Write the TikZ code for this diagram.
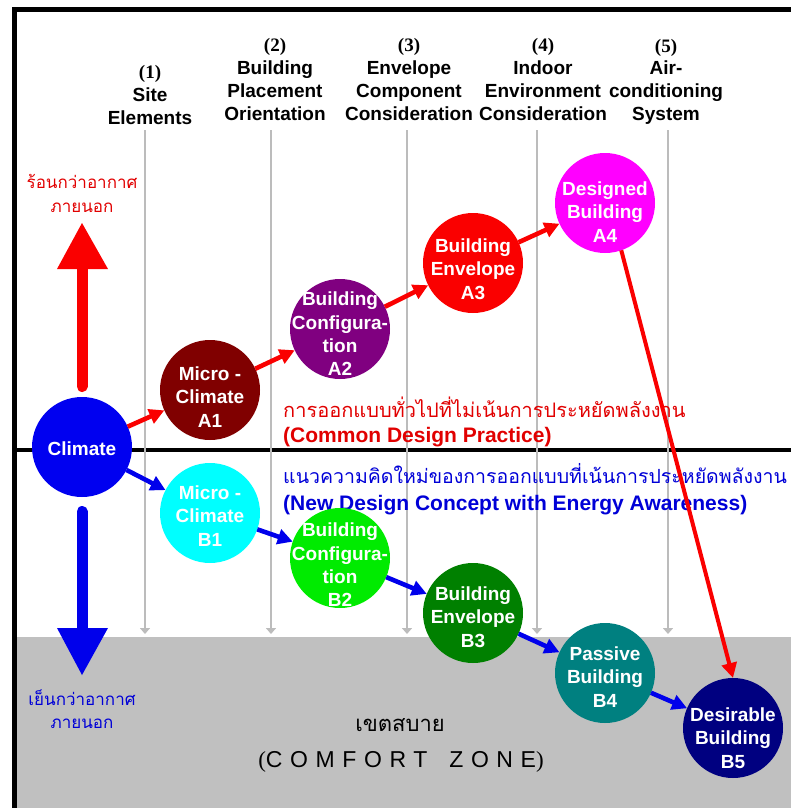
\documentclass[tikz,border=0pt]{standalone}
\usepackage{fontspec}
\setmainfont{Liberation Sans}
\newfontfamily\thaifont[Script=Thai]{Loma}
\newfontfamily\serifb{Liberation Serif}
\newfontfamily\spacedfont[LetterSpace=33]{Liberation Sans}
\usetikzlibrary{arrows.meta}
\definecolor{cClim}{RGB}{0,0,240}
\definecolor{cAone}{RGB}{128,0,0}
\definecolor{cAtwo}{RGB}{128,0,128}
\definecolor{cAthree}{RGB}{250,0,0}
\definecolor{cAfour}{RGB}{255,0,255}
\definecolor{cBone}{RGB}{0,255,255}
\definecolor{cBtwo}{RGB}{0,235,0}
\definecolor{cBthree}{RGB}{0,128,0}
\definecolor{cBfour}{RGB}{0,128,128}
\definecolor{cBfive}{RGB}{0,0,128}
\definecolor{zonegray}{RGB}{192,192,192}
\definecolor{glinec}{RGB}{188,188,188}
\definecolor{redtxt}{RGB}{225,0,0}
\definecolor{bluetxt}{RGB}{0,0,215}
\definecolor{arrred}{RGB}{250,0,0}
\definecolor{arrblue}{RGB}{0,0,235}
\tikzset{
  circ/.style={circle, minimum size=100pt, inner sep=0pt, outer sep=0pt, draw=none},
  ctext/.style={text=white, align=center, inner sep=0pt,
    font=\bfseries\fontsize{19}{23.4}\selectfont},
  hdr/.style={align=center, inner sep=0pt, font=\bfseries\fontsize{19}{22.7}\selectfont},
  rarr/.style={draw=arrred, line width=4.6pt, -{Triangle[length=15pt,width=15pt]}},
  barr/.style={draw=arrblue, line width=4.6pt, -{Triangle[length=15pt,width=15pt]}},
  gline/.style={draw=glinec, line width=1.8pt, -{Triangle[length=6pt,width=10pt]}},
  thaired/.style={text=redtxt, inner sep=0pt, font=\thaifont\fontsize{20}{23}\selectfont},
  thaiblue/.style={text=bluetxt, inner sep=0pt, font=\thaifont\fontsize{19.5}{23}\selectfont},
}
\begin{document}
\begin{tikzpicture}[x=1pt,y=-1pt]
\useasboundingbox (0,0) rectangle (790,808);
% comfort zone
\fill[zonegray] (14,637) rectangle (795,812);
% frame
\draw[line width=4.6pt, line join=miter] (14.5,812) -- (14.5,9.5) -- (795,9.5);
\draw[line width=4.2pt] (14,450) -- (795,450);
% grey guide lines
\foreach \n/\x in {1/145,2/271,3/407,4/537,5/668}{
  \coordinate (gt\n) at (\x,130);
  \coordinate (gb\n) at (\x,634);
  \draw[gline] (gt\n) -- (gb\n);
}
% headers
\node[hdr] (h1) at (150,95) {{\serifb\bfseries (1)}\\Site\\Elements};
\node[hdr] (h2) at (275,79.5) {{\serifb\bfseries (2)}\\Building\\Placement\\Orientation};
\node[hdr] (h3) at (409,79.5) {{\serifb\bfseries (3)}\\Envelope\\Component\\Consideration};
\node[hdr] (h4) at (543,79.5) {{\serifb\bfseries (4)}\\Indoor\\Environment\\Consideration};
\node[hdr] (h5) at (666,81.5) {{\serifb\bfseries (5)}\\Air-\\conditioning\\System};
% big arrows
\draw[arrred, line width=11pt, line cap=round] (82,386.5) -- (82,268);
\fill[arrred] (57,269) -- (108,269) -- (82,223) -- cycle;
\draw[arrblue, line width=11pt, line cap=round] (82,511.5) -- (82,629);
\fill[arrblue] (57,628) -- (108,628) -- (82,675) -- cycle;
% side labels
\node[thaired, align=center, font=\thaifont\fontsize{17}{24}\selectfont, text=redtxt] (hot) at (82,193) {ร้อนกว่าอากาศ\\ภายนอก};
\node[thaiblue, align=center, font=\thaifont\fontsize{17}{23}\selectfont] (cold) at (82,709) {เย็นกว่าอากาศ\\ภายนอก};
% practice labels
\node[thaired, anchor=west] (t1) at (283,407) {การออกแบบทั่วไปที่ไม่เน้นการประหยัดพลังงาน};
\node[text=redtxt, anchor=west, inner sep=0pt, font=\bfseries\fontsize{21}{24}\selectfont] (t2) at (283,437) {(Common Design Practice)};
\node[thaiblue, anchor=west] (t3) at (283,474) {แนวความคิดใหม่ของการออกแบบที่เน้นการประหยัดพลังงาน};
\node[text=bluetxt, anchor=west, inner sep=0pt, font=\bfseries\fontsize{21}{24}\selectfont] (t4) at (283,505) {(New Design Concept with Energy Awareness)};
% comfort zone labels
\node[inner sep=0pt, font=\thaifont\fontsize{22}{24}\selectfont] (cz1) at (400,725) {เขตสบาย};
\node[inner sep=0pt, font=\spacedfont\fontsize{23}{26}\selectfont] (cz2) at (401,762) {{\serifb(}COMFORT\hspace{22pt}ZONE{\serifb)}};
% circles
\node[circ, fill=cClim]  (clim) at (82,447) {};
\node[circ, fill=cAone]  (a1) at (210,390) {};
\node[circ, fill=cAtwo]  (a2) at (340,329) {};
\node[circ, fill=cAthree](a3) at (473,263) {};
\node[circ, fill=cAfour] (a4) at (605,203) {};
\node[circ, fill=cBone]  (b1) at (210,513) {};
\node[circ, fill=cBtwo]  (b2) at (340,558) {};
\node[circ, fill=cBthree](b3) at (473,613) {};
\node[circ, fill=cBfour] (b4) at (605,673) {};
\node[circ, fill=cBfive] (b5) at (733,728) {};
% circle texts
\node[ctext] (lclim) at ([yshift=-2pt]clim.center) {Climate};
\node[ctext] (la1) at ([yshift=-7pt]a1.center) {Micro -\\Climate\\A1};
\node[ctext] (la2) at ([yshift=-5pt]a2.center) {Building\\Configura-\\tion\\A2};
\node[ctext] (la3) at ([yshift=-6pt]a3.center) {Building\\Envelope\\A3};
\node[ctext] (la4) at ([yshift=-9pt]a4.center) {Designed\\Building\\A4};
\node[ctext] (lb1) at ([yshift=-3pt]b1.center) {Micro -\\Climate\\B1};
\node[ctext] (lb2) at ([yshift=-7pt]b2.center) {Building\\Configura-\\tion\\B2};
\node[ctext] (lb3) at ([yshift=-4pt]b3.center) {Building\\Envelope\\B3};
\node[ctext] (lb4) at ([yshift=-4pt]b4.center) {Passive\\Building\\B4};
\node[ctext] (lb5) at ([yshift=-10pt]b5.center) {Desirable\\Building\\B5};
% connectors
\draw[rarr] (clim) -- (a1);
\draw[rarr] (a1) -- (a2);
\draw[rarr] (a2) -- (a3);
\draw[rarr] (a3) -- (a4);
\draw[rarr, line width=4pt] (a4.-71) -- (b5.north);
\draw[barr] (clim) -- (b1);
\draw[barr] (b1) -- (b2);
\draw[barr] (b2) -- (b3);
\draw[barr] (b3) -- (b4);
\draw[barr] (b4) -- (b5);
\end{tikzpicture}
\end{document}
